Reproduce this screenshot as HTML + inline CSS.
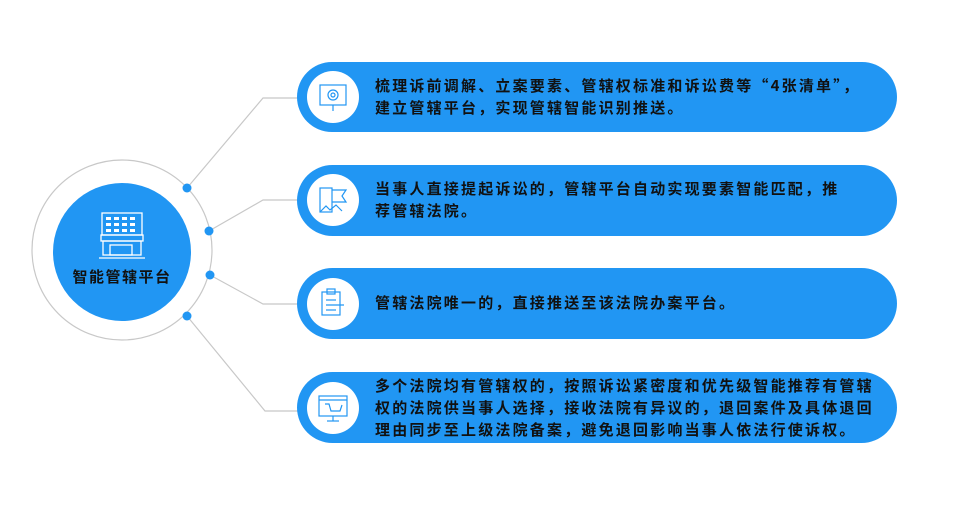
<!DOCTYPE html>
<html><head><meta charset="utf-8"><style>
body{margin:0;background:#fff;width:976px;height:505px;overflow:hidden;font-family:"Noto Sans CJK SC","Liberation Sans",sans-serif}
.t{position:absolute;left:375px;font-size:15px;font-weight:bold;color:#111;letter-spacing:2.2px;line-height:22px;white-space:nowrap}
</style></head><body>
<svg width="976" height="505" style="position:absolute;left:0;top:0">
<g fill="none" stroke="#c8c8c8" stroke-width="1.2">
<circle cx="122" cy="250" r="90"/>
<polyline points="187,188 263,98 300,98"/>
<polyline points="209,231 263,200 300,200"/>
<polyline points="210,275 263,304 300,304"/>
<polyline points="187,316 265,411 300,411"/>
</g>
<circle cx="122" cy="252" r="69" fill="#2196F3"/>
<g fill="#2196F3"><circle cx="187" cy="188" r="4.5"/><circle cx="209" cy="231" r="4.5"/><circle cx="210" cy="275" r="4.5"/><circle cx="187" cy="316" r="4.5"/></g>
<g fill="#2196F3">
<rect x="297" y="62" width="600" height="70" rx="35"/>
<rect x="297" y="165" width="600" height="71" rx="35.5"/>
<rect x="297" y="268" width="600" height="71" rx="35.5"/>
<rect x="297" y="372" width="600" height="71" rx="35.5"/>
</g>
<g fill="#fff"><circle cx="333" cy="97" r="26"/><circle cx="333" cy="200" r="26"/><circle cx="333" cy="304" r="26"/><circle cx="333" cy="408" r="26"/></g>
<g fill="none" stroke="#fff" stroke-width="1.3">
<rect x="102" y="213" width="40" height="22"/><rect x="101" y="235" width="42" height="6"/><rect x="103" y="241" width="38" height="14"/><line x1="99" y1="258" x2="145" y2="258"/>
<rect x="110" y="245" width="22" height="10"/>
</g>
<g fill="#fff"><rect x="106" y="217" width="5" height="3"/><rect x="114" y="217" width="5" height="3"/><rect x="122" y="217" width="5" height="3"/><rect x="130" y="217" width="5" height="3"/><rect x="106" y="223" width="5" height="3"/><rect x="114" y="223" width="5" height="3"/><rect x="122" y="223" width="5" height="3"/><rect x="130" y="223" width="5" height="3"/><rect x="106" y="229" width="5" height="3"/><rect x="114" y="229" width="5" height="3"/><rect x="122" y="229" width="5" height="3"/><rect x="130" y="229" width="5" height="3"/></g>
<g fill="none" stroke="#2196F3" stroke-width="1.2">
<rect x="320" y="85" width="26" height="20"/><circle cx="333" cy="95" r="5"/><circle cx="333" cy="95" r="2"/><line x1="333" y1="105" x2="333" y2="111"/>
<rect x="320" y="188" width="12" height="24"/><path d="M332 190 L346 190 L342 196 L346 202 L332 202"/><path d="M320 212 L326 206 L330 210 L336 205 L342 211"/>
<rect x="322" y="292" width="18" height="23"/><rect x="327" y="289" width="8" height="5"/><line x1="326" y1="300" x2="336" y2="300"/><line x1="326" y1="305" x2="344" y2="305"/><line x1="326" y1="310" x2="336" y2="310"/>
<rect x="319" y="396" width="28" height="20"/><line x1="319" y1="400" x2="347" y2="400"/><path d="M325 404 L329 404 L331 411 L340 411 L342 405"/><line x1="333" y1="416" x2="333" y2="421"/><line x1="327" y1="421" x2="339" y2="421"/>
</g>
</svg>
<div style="position:absolute;left:53px;top:266px;width:138px;text-align:center;font-size:15px;font-weight:bold;color:#111;letter-spacing:1.5px">智能管辖平台</div>
<div class="t" style="top:75px">梳理诉前调解、立案要素、管辖权标准和诉讼费等“4张清单”，<br>建立管辖平台，实现管辖智能识别推送。</div>
<div class="t" style="top:178px">当事人直接提起诉讼的，管辖平台自动实现要素智能匹配，推<br>荐管辖法院。</div>
<div class="t" style="top:292px">管辖法院唯一的，直接推送至该法院办案平台。</div>
<div class="t" style="top:375px">多个法院均有管辖权的，按照诉讼紧密度和优先级智能推荐有管辖<br>权的法院供当事人选择，接收法院有异议的，退回案件及具体退回<br>理由同步至上级法院备案，避免退回影响当事人依法行使诉权。</div>
</body></html>
